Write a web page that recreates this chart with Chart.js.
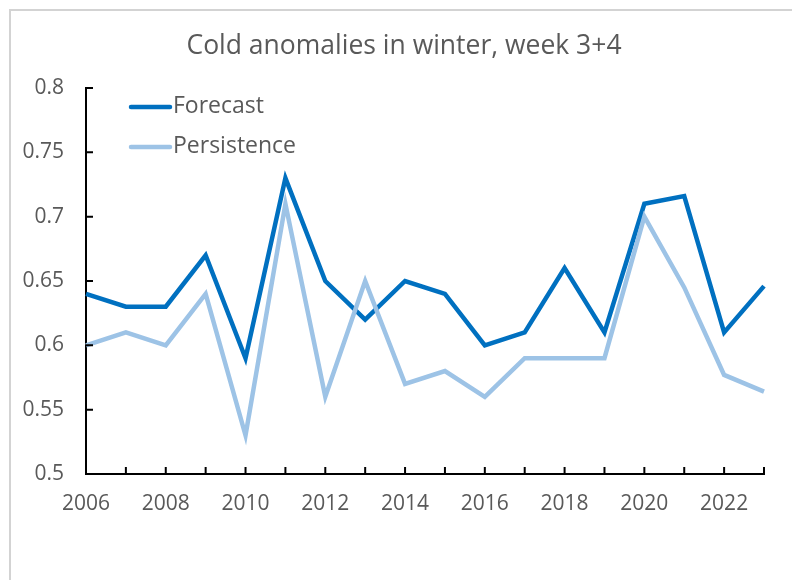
<!DOCTYPE html>
<html>
<head>
<meta charset="utf-8">
<script src="https://cdn.jsdelivr.net/npm/chart.js@4"></script>
<style>
  html, body { margin: 0; padding: 0; background: #fff; }
  #wrap { position: relative; width: 792px; height: 580px; overflow: hidden; }
  #frame { position: absolute; left: 9px; top: 9px; right: -10px; bottom: -10px; border-top: 2px solid #d3d3d3; border-left: 2px solid #d3d3d3; }
  canvas { position: absolute; left: 0; top: 0; }
</style>
</head>
<body>
<div id="wrap">
  <div id="frame"></div>
  <canvas id="chart" width="792" height="580"></canvas>
</div>
<script>
const years = [2006, 2007, 2008, 2009, 2010, 2011, 2012, 2013, 2014, 2015, 2016, 2017, 2018, 2019, 2020, 2021, 2022, 2023];
const forecast = [0.64, 0.63, 0.63, 0.67, 0.59, 0.73, 0.65, 0.62, 0.65, 0.64, 0.60, 0.61, 0.66, 0.61, 0.71, 0.716, 0.61, 0.646];
const persistence = [0.60, 0.61, 0.60, 0.64, 0.53, 0.71, 0.56, 0.65, 0.57, 0.58, 0.56, 0.59, 0.59, 0.59, 0.70, 0.645, 0.577, 0.564];
const titleText = 'Cold anomalies in winter, week 3+4';

const FONT = '"Open Sans", sans-serif';
const GREY = '#595959';

// ticks inside the axes, title and legend inside the plot
const decor = {
  id: 'decor',
  afterDraw(chart) {
    const { ctx, chartArea: a, scales: { x, y } } = chart;
    ctx.save();
    ctx.strokeStyle = '#000';
    ctx.lineWidth = 2;
    ctx.beginPath();
    x.ticks.forEach((t, i) => { const px = x.getPixelForTick(i); ctx.moveTo(px, a.bottom); ctx.lineTo(px, a.bottom - 7); });
    y.ticks.forEach((t, i) => { const py = y.getPixelForTick(i); ctx.moveTo(a.left, py); ctx.lineTo(a.left + 7, py); });
    ctx.stroke();

    ctx.fillStyle = GREY;
    ctx.font = '26.5px ' + FONT;
    ctx.textAlign = 'center';
    ctx.textBaseline = 'alphabetic';
    ctx.fillText(titleText, 404, 54);

    ctx.font = '23px ' + FONT;
    ctx.textAlign = 'left';
    ctx.textBaseline = 'middle';
    chart.data.datasets.forEach((ds, i) => {
      const ly = 107 + i * 40;
      ctx.strokeStyle = ds.borderColor;
      ctx.lineWidth = ds.borderWidth;
      ctx.lineCap = 'round';
      ctx.beginPath(); ctx.moveTo(131, ly); ctx.lineTo(170, ly); ctx.stroke();
      ctx.fillText(ds.label, 173, ly - 1);
    });
    ctx.restore();
  }
};

new Chart(document.getElementById('chart'), {
  type: 'line',
  data: {
    labels: years,
    datasets: [
      { label: 'Forecast', data: forecast, borderColor: '#0070c0', borderWidth: 4.5, pointRadius: 0, tension: 0, order: 1 },
      { label: 'Persistence', data: persistence, borderColor: '#9dc3e6', borderWidth: 4.5, pointRadius: 0, tension: 0, order: 0 },
    ],
  },
  options: {
    responsive: false,
    animation: false,
    layout: { padding: { left: 0, top: 88, right: 28, bottom: 0 } },
    plugins: { legend: { display: false }, title: { display: false }, tooltip: { enabled: false } },
    scales: {
      x: {
        offset: false,
        grid: { display: false, drawTicks: false },
        border: { display: true, color: '#000', width: 2 },
        ticks: {
          autoSkip: false, maxRotation: 0, padding: 17, color: GREY, font: { family: FONT, size: 21 },
          callback: (v, i) => (years[i] % 2 === 0 ? String(years[i]) : ''),
        },
        afterFit: s => { s.height = 106; },
      },
      y: {
        min: 0.5, max: 0.8,
        grid: { display: false, drawTicks: false },
        border: { display: true, color: '#000', width: 2 },
        ticks: { stepSize: 0.05, padding: 22, color: GREY, font: { family: FONT, size: 21 }, callback: v => String(+v.toFixed(2)) },
        afterFit: s => { s.width = 86; },
      },
    },
  },
  plugins: [decor],
});
</script>
</body>
</html>
